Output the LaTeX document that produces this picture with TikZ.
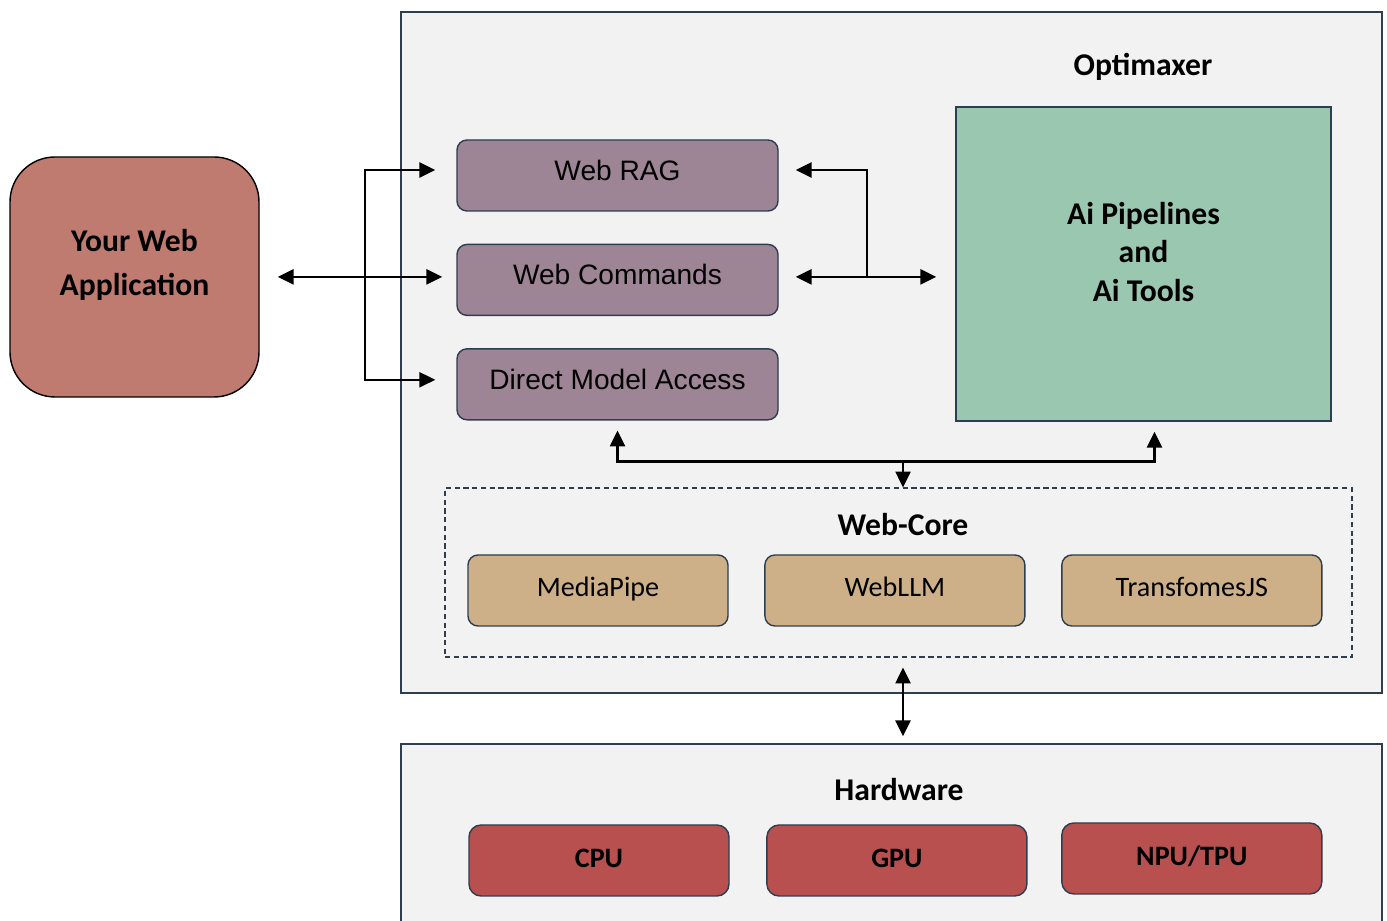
\documentclass[tikz,border=0pt]{standalone}
\usepackage{fontspec}
\setmainfont{Carlito}
\newfontfamily\arialfont{Liberation Sans}
\usetikzlibrary{
  arrows.meta,
  positioning
}
\definecolor{panelgray}{RGB}{242,242,242}
\definecolor{slate}{RGB}{44,62,80}
\definecolor{appred}{RGB}{192,123,112}
\definecolor{mauve}{RGB}{158,133,149}
\definecolor{sage}{RGB}{154,199,176}
\definecolor{coretan}{RGB}{205,176,136}
\definecolor{brick}{RGB}{184,80,80}

\begin{document}
\begin{tikzpicture}[node distance=0.64cm, >={Triangle[length=9pt,width=8.5pt]},
            panel/.style={rectangle, draw=slate, fill=panelgray, line width=0.8pt},
            heading/.style={font=\fontsize{18}{22}\selectfont\bfseries, align=center},
            appbox/.style={rectangle, draw=black, fill=appred, line width=0.8pt, rounded corners=0.9cm, minimum width=4.98cm, minimum height=4.8cm},
            cmdbox/.style={rectangle, draw=slate, fill=mauve, line width=0.8pt, rounded corners=0.2cm, minimum width=6.42cm, minimum height=1.42cm, text height=11.5pt, text depth=6pt, font=\arialfont\fontsize{16}{19}\selectfont},
            pipebox/.style={rectangle, draw=slate, fill=sage, line width=0.8pt, minimum width=7.5cm, minimum height=6.28cm},
            corebox/.style={rectangle, draw=slate, fill=coretan, line width=0.8pt, rounded corners=0.2cm, minimum width=5.2cm, minimum height=1.42cm, text height=11pt, text depth=4pt, font=\fontsize{16}{19}\selectfont},
            hwbox/.style={rectangle, draw=slate, fill=brick, line width=0.8pt, rounded corners=0.24cm, minimum width=5.2cm, minimum height=1.42cm, text height=11pt, text depth=3pt, font=\fontsize{16}{19}\selectfont\bfseries},
            link/.style={line width=1.3pt}]
            \clip (0,0) rectangle (27.74,18.42);

            % outer panels
            \node [panel, minimum width=19.62cm, minimum height=13.62cm] (opt) at (17.83,11.37) {};
            \node [panel, minimum width=19.62cm, minimum height=3.84cm] (hw) at (17.83,1.62) {};
            \node [heading] (opttitle) at (22.86,17.08) {Optimaxer};
            \node [heading] (hwtitle) at (17.98,2.62) {Hardware};

            % the web application
            \node [appbox] (app) at (2.69,12.88) {};
            \node [heading, font=\fontsize{18}{25}\selectfont\bfseries] (apptext) at ([yshift=0.25cm]app.center) {Your Web\\Application};

            % entry points
            \node [cmdbox] (rag) at (12.35,14.91) {Web RAG};
            \node [cmdbox, below=of rag] (cmd) {Web Commands};
            \node [cmdbox, below=of cmd] (dma) {Direct Model Access};

            \node [pipebox] (pipe) at (22.87,13.14) {};
            \node [heading] (pipetext) at ([yshift=0.24cm]pipe.center) {Ai Pipelines\\and\\Ai Tools};

            % web-core runtimes
            \node [rectangle, draw=slate, line width=0.6pt, dash pattern=on 3pt off 2pt, minimum width=18.14cm, minimum height=3.38cm] (core) at (17.97,6.97) {};
            \node [heading] (coretitle) at (18.06,7.92) {Web-Core};
            \node [corebox] (mp) at (11.96,6.61) {MediaPipe};
            \node [corebox, right=0.71cm of mp] (wllm) {WebLLM};
            \node [corebox, right=0.71cm of wllm] (tjs) {TransfomesJS};

            % hardware units
            \node [hwbox] (cpu) at (11.98,1.21) {CPU};
            \node [hwbox, right=0.73cm of cpu] (gpu) {GPU};
            \node [hwbox, right=0.67cm of gpu, yshift=0.04cm] (npu) {NPU/TPU};

            % connectors
            \coordinate (lsplit) at ([xshift=-1.82cm,yshift=0.06cm]cmd.west);
            \coordinate (rsplit) at ([xshift=1.76cm,yshift=0.06cm]cmd.east);
            \path (dma.south -| core.north) ++(0.09,-0.82) coordinate (bjoin);

            \draw [link, <->, shorten <=0.36cm, shorten >=0.28cm] (app.east |- lsplit) -- (cmd.west |- lsplit);
            \draw [link, ->, shorten >=0.42cm] (lsplit) |- ([yshift=0.11cm]rag.west);
            \draw [link, ->, shorten >=0.42cm] (lsplit) |- ([yshift=0.09cm]dma.west);
            \draw [link, <->, shorten <=0.34cm, shorten >=0.38cm] (cmd.east |- rsplit) -- (pipe.west |- rsplit);
            \draw [link, ->, shorten >=0.34cm] (rsplit) |- ([yshift=0.11cm]rag.east);
            \draw [link, <->, shorten <=0.2cm, shorten >=0.2cm] (dma.south) |- (bjoin) -| ([xshift=0.22cm]pipe.south);
            \draw [link, ->] (bjoin) -- (bjoin |- core.north);
            \draw [link, <->, shorten <=0.2cm, shorten >=0.14cm] (core.south -| bjoin) -- (hw.north -| bjoin);
        \end{tikzpicture}
\end{document}
